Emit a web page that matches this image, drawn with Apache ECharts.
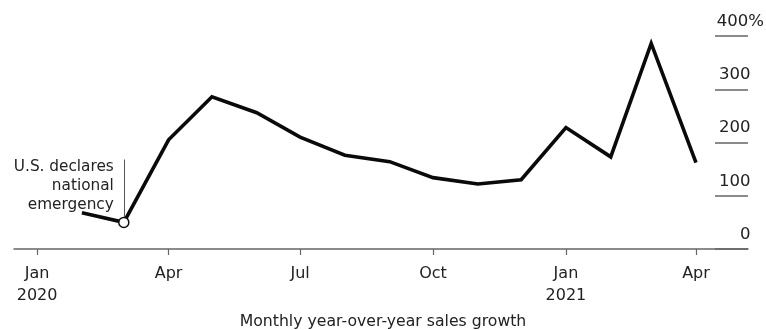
<!DOCTYPE html>
<html>
<head>
<meta charset="utf-8">
<script src="https://cdn.jsdelivr.net/npm/echarts@6/dist/echarts.min.js"></script>
<style>
html,body{margin:0;padding:0;background:#fff;}
#c{width:766px;height:330px;}
</style>
</head>
<body>
<div id="c"></div>
<script>
// Data
const months = ['2020-02','2020-03','2020-04','2020-05','2020-06','2020-07','2020-08','2020-09','2020-10','2020-11','2020-12','2021-01','2021-02','2021-03','2021-04'];
const growth = [68, 50, 205, 286, 256, 210, 176, 164, 134, 122, 130, 228, 173, 386, 162];
const tickMonths = ['2020-01','2020-04','2020-07','2020-10','2021-01','2021-04'];
const monthNames = ['Jan','Feb','Mar','Apr','May','Jun','Jul','Aug','Sep','Oct','Nov','Dec'];
const yTicks = [0, 100, 200, 300, 400];
const annotationMonth = '2020-03';
const annotationText = 'U.S. declares\nnational\nemergency';
const chartTitle = 'Monthly year-over-year sales growth';

// x values: days since 2020-01-01 (UTC)
const ORIGIN = Date.UTC(2020, 0, 1);
const DAY = 86400000;
function dayOf(m){ const p = m.split('-'); return (Date.UTC(+p[0], +p[1]-1, 1) - ORIGIN) / DAY; }
const seriesData = months.map((m,i)=>[dayOf(m), growth[i]]);
const annIdx = months.indexOf(annotationMonth);
const annPoint = [dayOf(annotationMonth), growth[annIdx]];
const tickDays = tickMonths.map(dayOf);

const FONT = 'DejaVu Sans';
const txt = '#222';
const chart = echarts.init(document.getElementById('c'), null, {renderer:'canvas'});
chart.setOption({
  animation: false,
  backgroundColor: '#fff',
  title: {
    text: chartTitle, left: 'center', top: 309,
    textStyle: {fontFamily: FONT, fontSize: 15.7, fontWeight: 'normal', color: txt}
  },
  grid: {left: 14, right: 18, top: 36, bottom: 81, outerBoundsMode: 'none'},
  xAxis: {
    type: 'value',
    min: tickDays[0] - 16,
    max: tickDays[tickDays.length-1] + 36,
    axisLine: {show: true, onZero: false, lineStyle: {color: '#666', width: 1.5}},
    axisTick: {show: true, length: 6, lineStyle: {color: '#666', width: 1.2}, customValues: tickDays},
    splitLine: {show: false},
    axisLabel: {
      customValues: tickDays,
      formatter: function(v){ const d = new Date(ORIGIN + v*DAY); const m = d.getUTCMonth(); return monthNames[m] + (m === 0 ? '\n' + d.getUTCFullYear() : ''); },
      fontFamily: FONT, fontSize: 16, color: txt, lineHeight: 22, margin: 14,
      hideOverlap: false
    }
  },
  yAxis: {
    type: 'value', position: 'right', min: 0, max: 400, interval: 100,
    axisLine: {show: false, onZero: false},
    splitLine: {show: false},
    axisTick: {show: true, inside: true, length: 33, lineStyle: {color: '#666', width: 1.5}},
    axisLabel: {
      inside: false, margin: 16, align: 'right', verticalAlign: 'bottom',
      padding: [0,0,6,0],
      formatter: function(v){ return '{n|' + v + '}' + (v === 400 ? '{p|%}' : '{h|%}'); },
      rich: {
        n: {fontFamily: FONT, fontSize: 16.5, color: txt},
        p: {fontFamily: FONT, fontSize: 16.5, color: txt},
        h: {fontFamily: FONT, fontSize: 14.3, color: 'rgba(0,0,0,0)'}
      }
    }
  },
  series: [
    {
      type: 'line', data: seriesData, symbol: 'none', z: 3,
      lineStyle: {color: '#0a0a0a', width: 3.6, join: 'miter'}
    },
    {
      type: 'scatter', data: [annPoint], z: 5,
      symbol: 'circle', symbolSize: 10,
      itemStyle: {color: '#ffffff', opacity: 1, borderColor: '#111', borderWidth: 1.5},
      emphasis: {disabled: true},
      markLine: {
        silent: true, symbol: 'none', z: 2,
        lineStyle: {color: '#555', width: 1, type: 'solid'},
        label: {show: false},
        data: [[{coord: annPoint}, {coord: [annPoint[0], 168]}]]
      },
      markPoint: {
        silent: true, symbol: 'circle', symbolSize: 0,
        data: [{coord: [annPoint[0], 168]}],
        label: {
          show: true, formatter: annotationText, position: [-10, -2],
          align: 'right', verticalAlign: 'top',
          fontFamily: FONT, fontSize: 15.3, lineHeight: 19, color: txt
        }
      }
    }
  ]
});
</script>
</body>
</html>
